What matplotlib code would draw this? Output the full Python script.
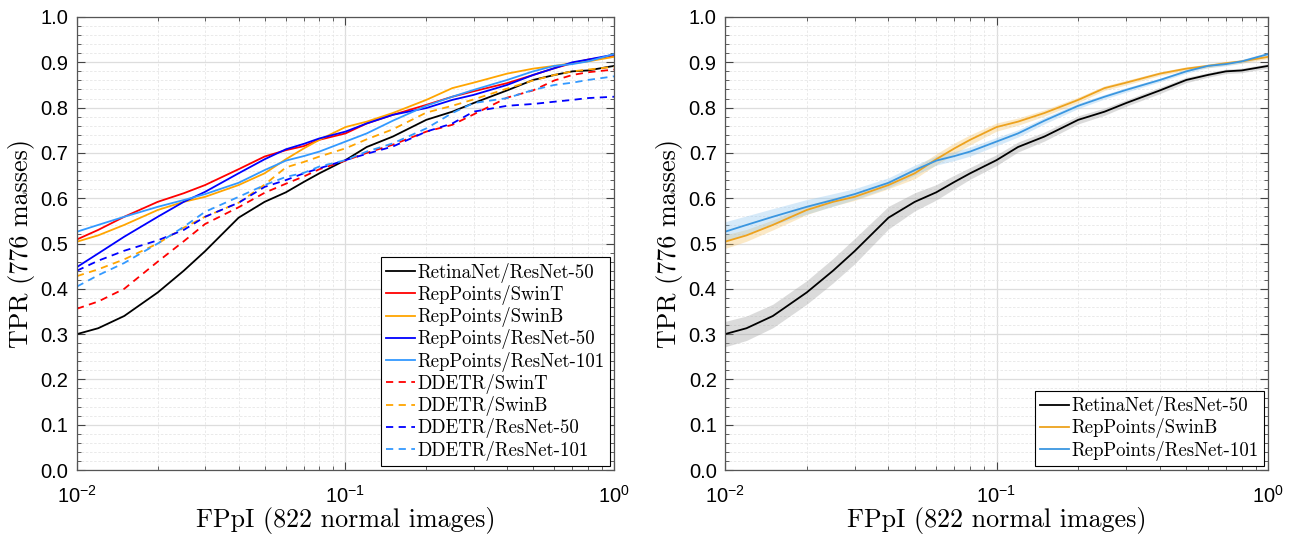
import numpy as np
import matplotlib
matplotlib.use("Agg")
import matplotlib.pyplot as plt
from matplotlib.ticker import LogLocator, MultipleLocator, FormatStrFormatter, LogFormatterSciNotation

plt.rcParams['font.family'] = ['Liberation Sans', 'DejaVu Sans']
plt.rcParams['mathtext.fontset'] = 'custom'
plt.rcParams['mathtext.rm'] = 'Liberation Sans'
plt.rcParams['mathtext.it'] = 'Liberation Sans:italic'
plt.rcParams['axes.formatter.use_mathtext'] = True

# FPpI sample points
fppi = [0.01, 0.012, 0.015, 0.02, 0.025, 0.03, 0.04, 0.05, 0.06, 0.07, 0.08,
        0.1, 0.12, 0.15, 0.2, 0.25, 0.3, 0.4, 0.5, 0.6, 0.7, 0.8, 1.0]

# TPR curves
retina_r50 = [0.300, 0.313, 0.340, 0.392, 0.440, 0.483, 0.557, 0.592, 0.613, 0.636, 0.655,
              0.684, 0.713, 0.736, 0.773, 0.791, 0.810, 0.838, 0.861, 0.872, 0.880, 0.882, 0.892]
rep_swint = [0.509, 0.530, 0.559, 0.592, 0.611, 0.629, 0.664, 0.692, 0.706, 0.715, 0.729,
             0.743, 0.765, 0.784, 0.806, 0.824, 0.836, 0.854, 0.872, 0.887, 0.898, 0.906, 0.914]
rep_swinb = [0.504, 0.518, 0.541, 0.574, 0.592, 0.603, 0.629, 0.655, 0.686, 0.710, 0.729,
             0.757, 0.769, 0.788, 0.817, 0.843, 0.855, 0.875, 0.886, 0.892, 0.898, 0.902, 0.912]
rep_r50 = [0.448, 0.478, 0.515, 0.559, 0.592, 0.614, 0.655, 0.686, 0.708, 0.720, 0.732,
           0.747, 0.765, 0.784, 0.799, 0.817, 0.828, 0.850, 0.872, 0.887, 0.900, 0.906, 0.917]
rep_r101 = [0.526, 0.541, 0.559, 0.581, 0.596, 0.609, 0.634, 0.662, 0.683, 0.693, 0.703,
            0.725, 0.743, 0.771, 0.804, 0.824, 0.839, 0.861, 0.880, 0.892, 0.896, 0.902, 0.918]
ddetr_swint = [0.356, 0.372, 0.400, 0.460, 0.505, 0.543, 0.580, 0.612, 0.632, 0.648, 0.664,
               0.683, 0.700, 0.718, 0.747, 0.762, 0.785, 0.822, 0.838, 0.860, 0.872, 0.878, 0.884]
ddetr_swinb = [0.428, 0.443, 0.465, 0.500, 0.535, 0.559, 0.590, 0.630, 0.668, 0.680, 0.692,
               0.710, 0.730, 0.752, 0.789, 0.804, 0.818, 0.842, 0.860, 0.872, 0.880, 0.884, 0.890]
ddetr_r50 = [0.440, 0.462, 0.484, 0.507, 0.530, 0.559, 0.590, 0.625, 0.640, 0.655, 0.666,
             0.684, 0.698, 0.714, 0.747, 0.765, 0.791, 0.804, 0.808, 0.813, 0.817, 0.821, 0.824]
ddetr_r101 = [0.405, 0.430, 0.457, 0.500, 0.537, 0.570, 0.603, 0.629, 0.647, 0.656, 0.670,
              0.684, 0.703, 0.721, 0.754, 0.788, 0.810, 0.821, 0.839, 0.850, 0.855, 0.861, 0.869]

# half width of the shaded bands (right panel)
band_retina = [0.028, 0.027, 0.026, 0.026, 0.027, 0.028, 0.025, 0.020, 0.017, 0.015, 0.013,
               0.012, 0.011, 0.010, 0.009, 0.008, 0.007, 0.007, 0.006, 0.005, 0.005, 0.005, 0.005]
band_swinb = [0.015, 0.013, 0.011, 0.010, 0.009, 0.008, 0.008, 0.012, 0.012, 0.012, 0.011,
              0.009, 0.008, 0.007, 0.006, 0.005, 0.005, 0.004, 0.004, 0.004, 0.004, 0.004, 0.004]
band_r101 = [0.022, 0.020, 0.018, 0.016, 0.014, 0.012, 0.011, 0.011, 0.010, 0.010, 0.010,
             0.009, 0.008, 0.007, 0.006, 0.005, 0.005, 0.004, 0.004, 0.004, 0.004, 0.004, 0.004]

ORANGE = '#FFA500'
LBLUE = '#3399FF'

left_series = [
    ("RetinaNet/ResNet-50", retina_r50, 'k', '-'),
    ("RepPoints/SwinT", rep_swint, 'r', '-'),
    ("RepPoints/SwinB", rep_swinb, ORANGE, '-'),
    ("RepPoints/ResNet-50", rep_r50, 'b', '-'),
    ("RepPoints/ResNet-101", rep_r101, LBLUE, '-'),
    ("DDETR/SwinT", ddetr_swint, 'r', '--'),
    ("DDETR/SwinB", ddetr_swinb, ORANGE, '--'),
    ("DDETR/ResNet-50", ddetr_r50, 'b', '--'),
    ("DDETR/ResNet-101", ddetr_r101, LBLUE, '--'),
]

right_series = [
    ("RetinaNet/ResNet-50", retina_r50, band_retina, 'k', '#9a9a9a'),
    ("RepPoints/SwinB", rep_swinb, band_swinb, '#EDA21E', '#F5C060'),
    ("RepPoints/ResNet-101", rep_r101, band_r101, '#3A96E0', '#8cc4f0'),
]


def style_axes(ax):
    ax.set_xscale('log')
    ax.set_xlim(0.01, 1.0)
    ax.set_ylim(0, 1)
    ax.yaxis.set_major_locator(MultipleLocator(0.1))
    ax.yaxis.set_minor_locator(MultipleLocator(0.02))
    ax.yaxis.set_major_formatter(FormatStrFormatter('%.1f'))
    ax.xaxis.set_major_locator(LogLocator(base=10, numticks=10))
    ax.xaxis.set_minor_locator(LogLocator(base=10, subs=np.arange(2, 10), numticks=10))
    ax.xaxis.set_major_formatter(LogFormatterSciNotation())
    ax.grid(True, which='major', color='#dddddd', lw=0.9)
    ax.grid(True, which='minor', color='#e6e6e6', lw=0.6, ls=(0, (3, 2)))
    ax.set_axisbelow(True)
    ax.tick_params(which='both', direction='in', top=True, right=True,
                   colors='#444444', labelcolor='black', labelsize=14.5)
    ax.tick_params(which='major', length=6, width=0.8)
    ax.tick_params(which='minor', length=3, width=0.6)
    ax.tick_params(axis='x', which='major', pad=11)
    ax.tick_params(axis='y', which='major', pad=6)
    for s in ax.spines.values():
        s.set_color('#555555')
        s.set_linewidth(0.9)
    ax.set_xlabel('FPpI (822 normal images)', family='cmr10', fontsize=18.75, labelpad=0)
    ax.set_ylabel('TPR (776 masses)', family='cmr10', fontsize=18.75)
    ax.yaxis.set_label_coords(-0.078, 0.5)


def add_legend(ax):
    leg = ax.legend(loc='lower right', prop={'family': 'cmr10', 'size': 13.5},
                    fancybox=False, framealpha=1, edgecolor='black', handlelength=1.5,
                    handletextpad=0.15, borderpad=0.3, labelspacing=0.12, borderaxespad=0.2)
    leg.get_frame().set_linewidth(0.8)


fig = plt.figure(figsize=(12.91, 5.41), dpi=100)
ax1 = fig.add_axes([0.0596, 0.1312, 0.416, 0.8374])
ax2 = fig.add_axes([0.5616, 0.1312, 0.4206, 0.8374])

for name, vals, col, ls in left_series:
    ax1.plot(fppi, vals, color=col, ls=ls, lw=1.3, label=name,
             dashes=(4, 3) if ls == '--' else (None, None))
style_axes(ax1)
add_legend(ax1)

for name, vals, band, col, fcol in right_series:
    v = np.array(vals)
    b = np.array(band)
    ax2.fill_between(fppi, v - b, v + b, color=fcol, alpha=0.35, lw=0)
    ax2.plot(fppi, vals, color=col, lw=1.3, label=name)
style_axes(ax2)
add_legend(ax2)

fig.savefig('out.png', dpi=100)
